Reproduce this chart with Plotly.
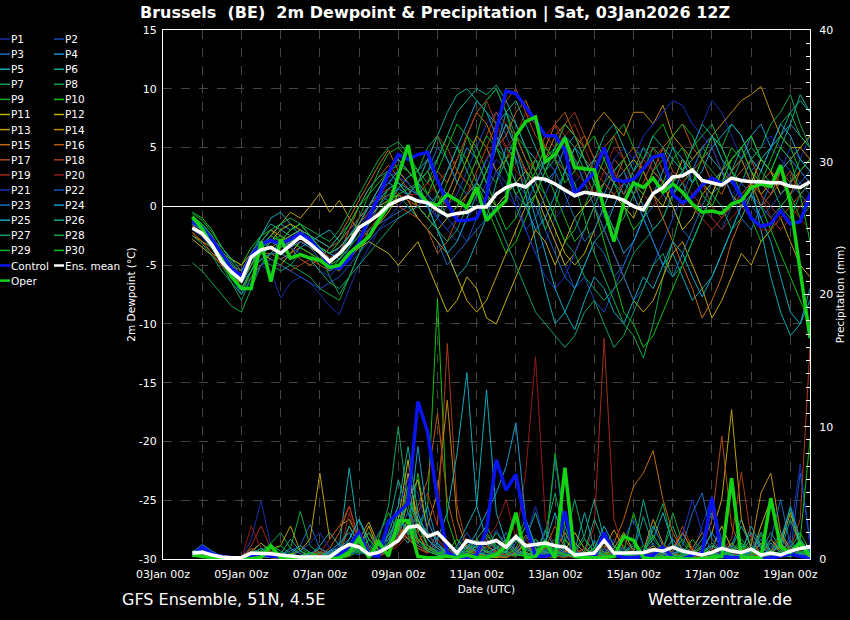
import pandas as pd
import plotly.graph_objects as go

# GFS ensemble run 03Jan2026 12Z, 6-hourly steps from +6h to +384h
times = pd.date_range("2026-01-03 18:00", periods=64, freq="6h")

member_names = [f"P{i}" for i in range(1, 31)]
member_colors = [
    "#1a2fa8", "#1848b8", "#1868c0", "#1890c8", "#10a8b8", "#10a890", "#10a060", "#10a848", "#10b020", "#10c010",
    "#b8b810", "#c0b010", "#c0a010", "#c08810", "#c06810", "#b85c10", "#b04c18", "#a83c18", "#a02c18", "#901c18",
    "#1a30c0", "#1850c0", "#1870c0", "#1898d0", "#10a8c0", "#10a890", "#10a068", "#10a848", "#10b028", "#10c018",
]
control_color = "#0a14f0"
oper_color = "#14d214"
mean_color = "#ffffff"

dew_ticks = [-30, -25, -20, -15, -10, -5, 0, 5, 10, 15]
dew_tick_labels = ["-30", "-25", "-20", "-15", "-10", "-5", "0", "5", "10", "15"]
rain_ticks = [0, 10, 20, 30, 40]

# 2m dewpoint (degC)
dew_control = [
    -1.3, -1.8, -2.8, -4.0, -5.3, -5.9, -4.2, -3.2, -2.9, -3.2,
    -2.8, -2.3, -2.8, -3.8, -5.1, -5.3, -4.5, -3.0, -1.0, 0.8,
    2.8, 4.4, 4.0, 4.4, 4.6, 2.2, 0.3, -1.2, -1.2, -1.0,
    0.8, 6.5, 9.8, 9.6, 8.5, 7.3, 6.0, 6.0, 4.8, 1.0,
    2.0, 2.9, 5.0, 2.3, 2.1, 2.3, 3.2, 4.2, 4.4, 1.0,
    0.3, 0.8, 1.8, 2.4, 1.9, 2.3, 0.8, -1.0, -1.7, -1.5,
    -0.4, -1.5, -1.3, 1.0,
]
dew_oper = [
    -0.9, -1.9, -3.4, -4.5, -6.0, -7.0, -7.0, -3.0, -6.4, -2.8,
    -4.4, -4.1, -4.4, -4.6, -5.2, -5.0, -4.0, -3.3, -2.6, -1.2,
    0.0, 2.6, 5.2, 1.3, 0.3, 0.1, 1.0, 0.5, -0.1, 1.6,
    -1.2, -0.3, 0.5, 6.0, 7.2, 7.6, 3.8, 4.4, 5.8, 3.3,
    3.2, 3.1, -0.3, -3.0, 0.3, 2.0, 1.6, 2.4, 1.2, 1.9,
    1.2, 0.2, -0.5, -0.4, -0.6, 0.2, 0.5, 1.6, 1.9, 1.7,
    3.5, 0.3, -5.5, -11.2,
]
dew_mean = [
    -1.85, -2.3, -3.3, -4.7, -5.6, -6.3, -4.3, -3.7, -3.5, -4.0,
    -3.3, -2.6, -3.2, -3.9, -4.7, -4.0, -3.1, -1.8, -1.3, -0.7,
    0.1, 0.5, 0.8, 0.45, 0.3, -0.3, -0.8, -0.6, -0.5, -0.05,
    -0.05, 1.05, 1.6, 1.9, 1.65, 2.4, 2.3, 1.9, 1.4, 0.9,
    1.2, 1.05, 0.95, 0.8, 0.5, 0.0, -0.3, 1.1, 1.6, 2.5,
    2.6, 3.1, 2.2, 2.0, 1.8, 2.4, 2.2, 2.1, 2.1, 2.0,
    2.0, 1.7, 1.6, 2.1,
]

dew_p1 = [-1.5, -2, -3.5, -4.5, -5.5, -7.5, -6, -5, -5.5, -7.8, -6.5, -6, -6.5, -7.5, -8.5, -9.2, -7, -5, -3.5, -2, -1, 0, 1,
          2, 1, -1, -2, -3, -1, 0, 2, 4, 3, 1, -2, -4, -3, -1, 0, 2, 3, 1, -1, 0, 2, 4, 5, 3, 2, 1, 3, 5, 7, 9, 8, 6, 4, 3, 2, 1, 3, 5, 4, 6]
dew_p2 = [-1.2, -1.8, -2.8, -4, -5, -6, -4, -3, -3, -3.5, -2.5, -2, -2.5, -3.5, -4.5, -3.5, -2.5, -1, 0, 1.5, 2.5, 3, 2,
          1, 0, -1, 0, 1, 3, 5, 7, 8, 6, 4, 3, 1, -1, -3, -5, -7, -6, -8, -9, -7, -5, -3, -1, 1, 2, 3, 2, 1, 0, -1, -2, 0, 2, 3, 4, 5, 4, 3, 2, 1]
dew_p3 = [-2, -2.5, -3.5, -5, -6, -7, -5.5, -4.5, -4, -4.5, -4, -3, -3.5, -4, -5, -4.5, -3.5, -2.5, -2, -1.5, -1, -0.5, 0,
          -1, -2, -3, -5, -4, -3, -2, -1, 0, 1, 2, 1, 0, -2, -4, -6, -7, -5, -3, -4, -6, -5, -3, -1, 0, 1, 0, -2, -3, -1, 1, 2, 3, 2, 1, 0, -1, 0, 1, 2, 3]
dew_p4 = [-1.6, -2.2, -3, -4.2, -5.5, -6.5, -5, -3.5, -2.5, -1.5, -2, -1.5, -2.5, -3, -3.5, -3, -2, -1, 0, 1, 0.5, 1.5, 2.5,
          3, 4, 2, 1, 3, 5, 4, 2, 5, 8, 7, 5, 4, 2, 3, 5, 6, 4, 2, 1, 3, 4, 2, 0, -2, -1, 1, 3, 4, 5, 6, 5, 3, 4, 6, 7, 5, 6, 7, 6, 5]
dew_p5 = [-1, -1.5, -2.5, -4, -5, -6, -4.5, -2.5, -1, -0.5, -1.5, -2.5, -3, -2.5, -2, -3, -2, -1, 0, 1, 2, 3, 2,
          1, 0, -2, -4, -6, -5, -3, -1, 2, 5, 4, 1, -3, -7, -10, -9, -7, -5, -3, -2, 0, 2, 1, -1, -3, -5, -4, -6, -8, -7, -6, -4, -2, 0, 2, -2, -6, -9, -11, -10, -7]
dew_p6 = [-1.8, -2.5, -3.5, -4.5, -5, -5.5, -4, -3, -3.5, -4, -3, -2, -2.5, -3.5, -4.5, -4, -2.5, -1.5, 0, 1, 2, 1.5, 1,
          2, 3, 4, 6, 8, 9, 10, 9.5, 10.3, 9, 7, 5, 3, 4, 5, 3, 1, 2, 4, 3, 2, 1, 3, 5, 4, 2, 1, 2, 3, 5, 4, 3, 2, 1, 2, 4, 5, 6, 8, 9, 8]
dew_p7 = [-1.4, -2, -3.5, -5, -6.5, -8, -6, -5, -4, -3, -2, -1.5, -2.5, -4, -6, -7.5, -6, -4, -2, -1, 0, 1, 0,
          -1, -2, -1, 1, 3, 6, 8, 9, 10, 8, 6, 4, 2, 1, -1, -3, -4, -6, -7, -8, -7, -6, -4, -3, -2, -1, 1, 2, 0, -1, 1, 3, 2, 4, 5, 4, 3, 1, 2, 4, 3]
dew_p8 = [-4.8, -5.5, -6.5, -7.5, -8.5, -9, -7, -5, -4, -4.5, -5, -5.5, -6, -7, -7.5, -8, -6, -4, -2.5, -1, 0, 1.5, 2.5,
          3, 5, 6, 4, 2, 4, 6, 9, 10, 8, 5, 3, 1, -2, 0, 3, 2, -1, -4, -6, -8, -10, -11, -12.9, -10, -6, -3, 0, 2, 4, 6, 5, 7, 6, 4, 3, 5, 7, 8, 6, 5]
dew_p9 = [-0.8, -1.5, -2.5, -4, -5.5, -6.5, -5, -3, -2, -2.5, -3, -3.5, -4, -5, -5.5, -4.5, -3, -1, 1, 3, 4.5, 5, 4,
          3, 1, 0, 2, 4, 6, 5, 3, 2, 4, 6, 5, 3, 1, -1, -3, -2, 0, 2, 4, 6, 7, 5, 4, 6, 7, 5, 3, 2, 4, 6, 5, 3, 1, -1, -3, -2, 0, 1, -1, 0]
dew_p10 = [-0.5, -1, -2, -3.5, -4.5, -5, -3.5, -2.5, -2, -3, -2.5, -2, -3, -4, -4.5, -4, -3, -2, -1, 0, 1.5, 2, 1,
           0, -1, 1, 3, 5, 4, 2, 0, -2, -4, -3, -1, 1, 3, 5, 6, 4, 2, 0, -3, -6, -9, -10, -12, -11, -9, -7, -5, -3, -1, 1, 3, 5, 4, 2, 0, -2, -4, -6, -8, -10]
dew_p11 = [-2.5, -3, -4, -4.5, -5, -5.5, -4.5, -4, -3, -2, -1.5, -2, -3, -3.5, -4, -3.5, -2.5, -2, -1, 0, 0.5, 1, 0.5,
           0, -1, -2, -1, 0, 1, 2, 1, 0, 1, 2, 3, 2, 0, -2, -4, -5, -4, -2, 0, 2, 3, 4, 3, 1, 0, 2, 4, 3, 2, 1, 3, 4, 5, 3, 1, 2, 3, 4, 5, 6]
dew_p12 = [-2.8, -3.5, -4.2, -5, -6, -6.5, -5, -4, -4.5, -5, -4, -3, -3.5, -4, -5, -5.5, -4.5, -3.5, -3, -3.5, -4, -5, -4,
           -3, -5, -7, -9, -8, -6, -7, -9.5, -10, -8, -6, -4, -2, -3, -5, -3, -1, 0, 1, 2, 1, 0, -1, 1, 3, 2, 0, -2, -1, 1, 2, 3, 1, 0, 2, 4, 3, 1, 2, 3, 4]
dew_p13 = [-2.2, -3, -3.5, -4, -4.5, -5, -4, -3.5, -2.5, -1.5, -0.5, -1, 0, 1.1, -0.5, 0.5, -1, -2, -2.5, -1.5, -0.5, 1, 0.5,
           -1, -2, -3, -4, -6, -8, -9, -8, -6, -4, -2, 0, 1, -1, -3, -5, -4, -2, 0, -2, -4, -6, -8, -9, -8, -6, -4, -3, -5, -7, -9.5, -8, -6, -4, -5, -3, -2, -1, -3, -5, -6]
dew_p14 = [-1.5, -2, -3, -4, -5, -6, -5, -4, -3.5, -3, -2.5, -2, -3, -4, -4.5, -4, -3, -1.5, 0, 1.5, 3, 4, 3,
           2, 3, 1, 0, 2, 4, 6, 5, 3, 4, 5, 3, 2, 4, 6, 7, 6, 5, 7, 8, 7, 6, 8, 8, 7, 8.6, 6, 5, 4, 5, 6, 7, 8, 9, 9.5, 10.2, 8, 6, 5, 5, 4]
dew_p15 = [-2, -2.5, -3.5, -4.5, -5.5, -6, -4.5, -3, -2, -2.5, -3.5, -4.5, -5, -4.5, -3.5, -2.5, -1, 0.5, 2, 3.5, 4.8, 3, 2,
           1, 2, 3, 2, 4, 6, 8, 7, 5, 6, 8, 9, 7, 5, 4, 3, 5, 6, 4, 3, 2, 4, 5, 3, 1, -1, -3, -5, -7, -9.5, -8, -6, -3, -1, 1, 2, 3, 2, 1, 3, 2]
dew_p16 = [-1.7, -2.2, -3, -4, -5, -6.5, -5, -4, -4, -4.5, -4, -3.5, -4, -4.5, -5, -4, -2, 0, 1.5, 2.5, 3.5, 2.5, 1.5,
           0, -1, 0, 1, 3, 2, 1, 3, 5, 7, 6, 4, 3, 5, 7, 8, 6, 4, 3, 5, 6, 4, 2, 1, 3, 5, 6, 7, 5, 4, 2, 1, 3, 4, 2, 0, 1, 3, 2, 1, 0]
dew_p17 = [-1.9, -2.5, -3.5, -4.5, -5.5, -7, -5.5, -4, -3, -3.5, -3, -2.5, -3, -3.5, -4, -3.5, -2.5, -1.5, -0.5, 0.5, 1, 0, -0.5,
           -1, -2, -4, -3, -1, 1, 3, 5, 7, 9, 10, 8, 6, 5, 7, 6, 4, 3, 1, 2, 4, 3, 1, 2, 4, 5, 3, 2, 3, 4, 5, 3, 2, 3, 4, 2, 1, 2, 3, 1, 2]
dew_p18 = [-2.3, -3, -4, -5, -6, -7, -6, -5, -4.5, -5, -5.5, -5, -4.5, -5, -5.5, -5, -4, -3, -2, -1, 0, 0.5, 1,
           2, 4, 6, 5, 3, 2, 4, 6, 8, 7, 5, 3, 4, 6, 5, 7, 8, 6, 4, 5, 3, 1, 2, 4, 3, 2, 1, 0, 1, 2, 0, -1, 0, 1, 2, 1, 0, -1, 0, 1, 2]
dew_p19 = [-1.3, -2, -3, -4, -5, -5.5, -4, -3, -3, -3.5, -3, -2, -2.5, -3, -3.5, -3, -2, -1, 0, 1, 1.5, 1, 0.5,
           0, 1, 2, 3, 4, 6, 8, 9, 7, 5, 6, 8, 7, 5, 4, 6, 7, 5, 3, 2, 1, 2, 3, 4, 5, 3, 2, 1, 0, -1, -2, -1, 0, 1, 2, 1, -1, -2, -1, 0, 1]
dew_p20 = [-1.6, -2.3, -3.2, -4.3, -5.3, -6, -4.8, -4, -3.5, -3.8, -3.5, -3, -3.2, -3.8, -4.3, -4, -3, -2, -1, -0.5, 0, 0.5, 1,
           1, 2, 1, 0, -1, 0, 2, 4, 6, 5, 3, 2, 4, 6, 7, 5, 3, 2, 1, 3, 5, 4, 2, 1, 0, 1, 3, 2, 1, 0, -1, -2, -1, 0, -1, -2, -2, -1, 0, -1, -2]
dew_p21 = [-1.1, -1.7, -2.7, -3.8, -5, -6, -4.5, -3.2, -2.5, -3, -3.5, -4, -4.5, -5.5, -6, -5, -3.5, -2, -0.5, 1, 2, 2.5, 2,
           1, 0, -1, -2, -1, 0, 2, 4, 3, 1, 0, -2, -4, -6, -7, -6, -4, -2, 0, 2, 4, 5, 4, 6, 7, 8, 9, 8.6, 7, 6, 5, 3, 1, 2, 4, 5, 6, 5, 4, 3, 2]
dew_p22 = [-2, -2.6, -3.6, -4.8, -6, -7.5, -6.5, -5, -4.5, -5, -5.5, -6, -6.5, -7, -6.5, -6, -5, -4, -3, -2, -1.5, -1, -0.5,
           0, 1, 0, -1, -2, -3, -1, 1, 3, 2, 0, -2, -1, 1, 3, 5, 4, 2, 0, -2, -4, -6, -8, -7, -5, -3, -1, 1, 3, 5, 6, 4, 2, 1, 0, -1, 0, 1, 2, 1, 0]
dew_p23 = [-1.5, -2, -3.2, -4.5, -5.5, -6.5, -5.5, -4.5, -4, -4, -3.5, -3, -3.5, -4.5, -5.5, -5, -4, -3, -1.5, 0, 1, 1.5, 1,
           2, 3, 5, 4, 2, 1, 2, 4, 5, 3, 1, 0, 2, 4, 3, 1, -1, -3, -2, 0, 2, 3, 1, -1, -3, -5, -6, -4, -2, 0, 2, 3, 1, -1, -2, 0, 2, 3, 4, 3, 2]
dew_p24 = [-1.8, -2.4, -3.4, -4.6, -5.8, -7, -5.5, -4, -3.5, -4, -4.5, -3.5, -3, -3.5, -4, -4.5, -3.5, -2, -1, 0.5, 1.5, 2, 1.5,
           1, 0, 1, 3, 5, 7, 9, 8, 6, 4, 2, 0, -2, -1, 1, 3, 5, 4, 2, 0, -2, -4, -3, -1, 1, 3, 5, 4, 2, 3, 5, 6, 7, 6, 4, 3, 5, 7, 6, 4, 3]
dew_p25 = [-1.4, -2, -3, -4, -5.2, -6.5, -5, -3.5, -3, -3.5, -3, -2.5, -3, -3.5, -4, -3.5, -2.5, -1.5, 0, 1.5, 3, 4, 3,
           2, 0, -2, -4, -3, -1, 1, 3, 5, 7, 5, 2, -1, -4, -7, -9, -10.5, -8, -6, -7, -9, -10, -8, -6, -7, -5, -3, -4, -6, -7.7, -6, -4, -2, 0, 1, -1, -3, -6, -9, -10, -8]
dew_p26 = [-1.2, -1.8, -2.8, -3.5, -4.5, -5.5, -4, -2.5, -1.5, -2, -2.5, -2, -2.5, -3, -3.5, -2.5, -1.5, 0, 1.5, 2.5, 3, 2, 1,
           2, 4, 6, 8, 9.5, 10, 9, 8, 7, 8, 9, 7, 5, 3, 4, 6, 5, 3, 4, 6, 7, 5, 3, 4, 6, 5, 4, 3, 5, 7, 6, 4, 3, 5, 6, 4, 3, 5, 7, 9.5, 8]
dew_p27 = [-2.5, -3.2, -4.2, -5.5, -6.5, -7.5, -5.5, -4.5, -5, -5.5, -5, -4, -4.5, -5.5, -6.5, -7, -6, -5, -4, -3, -2, -1, -0.5,
           0, -1, -2, -3, -2, 0, 2, 1, -1, -3, -5, -7, -9, -10, -11, -12, -11, -9, -8, -10, -12, -11, -9, -7, -5, -4, -6, -5, -3, -1, 1, 0, -2, -1, 1, 3, 2, 0, -1, 1, 2]
dew_p28 = [-0.6, -1.2, -2.2, -3.5, -4.8, -6, -4.5, -3, -2, -1.5, -1, -1.5, -2, -2.5, -3, -2, -0.5, 1, 2.5, 4, 5, 5.5, 4.5,
           3, 2, 4, 6, 5, 3, 1, 3, 5, 4, 2, 0, 1, 3, 5, 7, 6, 4, 2, 0, -2, -1, 1, 3, 5, 4, 2, 3, 5, 6, 7, 5, 3, 2, 4, 5, 7, 8, 9.5, 7, 5]
dew_p29 = [-1, -1.6, -2.6, -3.8, -5, -6.2, -5, -4, -3, -2.5, -3, -3.5, -4, -4.5, -5, -4.5, -3.5, -2.5, -1.5, -0.5, 0.5, 1, 1.5,
           2, 3, 1, -1, 0, 2, 4, 6, 5, 3, 1, 2, 4, 3, 1, -1, -3, -2, 0, 2, 3, 4, 2, 1, 3, 4, 6, 7, 6, 4, 3, 2, 4, 5, 3, 2, 4, 6, 5, 3, 4]
dew_p30 = [-1.3, -1.9, -3, -4.2, -5.5, -7, -5.5, -3.5, -2.5, -3, -2, -1.5, -2.5, -3.5, -4, -3, -1.5, 0, 1, 2, 3, 3.5, 3,
           2, 1, 3, 5, 7, 6, 4, 2, 0, -2, -1, 1, 3, 5, 4, 2, 3, 5, 6, 4, 2, 0, -2, -1, 1, 2, 4, 5, 3, 1, 0, 2, 4, 5, 6, 4, 3, 5, 4, 1, -3]

# 6-hourly precipitation (mm)
rain_control = [
    0.3, 0.9, 0.4, 0.2, 0.1, 0.1, 0.3, 0.4, 0.2, 0.2,
    0.1, 0.1, 0.0, 0.0, 0.0, 0.3, 1.0, 2.0, 0.3, 0.2,
    2.8, 3.5, 4.2, 11.9, 9.6, 4.5, 0.5, 0.1, 0.1, 0.3,
    2.2, 7.5, 5.2, 6.4, 2.6, 0.2, 0.2, 0.4, 3.6, 0.2,
    0.1, 0.1, 2.0, 0.3, 0.1, 0.1, 0.2, 0.3, 0.9, 0.1,
    0.0, 0.3, 0.5, 4.6, 0.2, 0.1, 0.1, 0.0, 0.0, 0.1,
    0.2, 0.4, 0.2, 0.1,
]
rain_oper = [
    0.3, 0.2, 0.1, 0.1, 0.0, 0.0, 0.0, 0.1, 1.0, 0.1,
    0.0, 0.0, 0.0, 0.0, 0.0, 0.1, 0.5, 1.6, 0.1, 1.3,
    0.2, 2.9, 2.9, 0.2, 0.1, 0.1, 0.2, 0.1, 0.3, 0.1,
    0.1, 0.3, 1.0, 3.5, 0.1, 0.2, 1.2, 0.1, 6.9, 0.2,
    0.1, 0.1, 0.1, 0.2, 1.7, 1.4, 0.1, 0.0, 0.1, 0.1,
    0.0, 0.0, 0.0, 0.1, 0.2, 6.1, 0.1, 0.1, 0.1, 4.6,
    0.9, 0.5, 1.2, 0.2,
]
rain_mean = [
    0.45, 0.5, 0.3, 0.15, 0.1, 0.1, 0.45, 0.45, 0.4, 0.3,
    0.2, 0.15, 0.15, 0.15, 0.15, 0.7, 1.1, 0.9, 0.35, 0.5,
    0.9, 1.4, 2.4, 2.5, 1.7, 2.0, 1.2, 0.45, 1.4, 1.2,
    1.2, 1.4, 0.9, 1.7, 1.0, 1.1, 1.2, 1.0, 0.9, 0.3,
    0.35, 0.45, 1.4, 0.45, 0.45, 0.45, 0.5, 0.7, 0.6, 0.9,
    0.6, 0.45, 0.3, 0.5, 0.8, 0.6, 0.5, 0.75, 0.3, 0.45,
    0.3, 0.6, 0.8, 0.9,
]

rain_p1 = [0.3, 1.0, 0.5, 0.2, 0.1, 0.0, 1.5, 4.4, 1.0, 0.3, 0.1, 0.0, 0.2, 0.5, 0.3, 0.1,
           0.4, 1.0, 0.5, 0.8, 1.5, 2.5, 3.0, 1.0, 0.5, 1.5, 0.8, 0.3, 0.2, 0.6, 1.2, 0.8,
           0.4, 0.2, 0.8, 1.5, 0.6, 0.3, 0.2, 0.9, 0.4, 0.1, 0.0, 0.3, 0.8, 0.4, 0.2, 0.1,
           0.0, 0.3, 0.6, 0.2, 2.5, 4.8, 1.2, 0.4, 0.2, 0.6, 1.0, 0.4, 0.2, 1.8, 7.2, 0.8]
rain_p2 = [0.2, 0.6, 0.4, 0.3, 0.0, 0.0, 0.3, 0.8, 0.5, 0.2, 0.1, 0.0, 0.0, 0.1, 0.3, 0.2,
           0.5, 1.2, 0.3, 0.4, 1.0, 2.0, 4.5, 3.0, 1.0, 0.4, 0.2, 0.6, 1.4, 0.8, 0.5, 2.2,
           1.0, 0.4, 0.3, 0.2, 0.5, 1.1, 0.4, 0.2, 0.1, 0.3, 0.6, 0.2, 0.1, 0.0, 0.4, 1.2,
           0.5, 0.2, 0.1, 0.3, 0.6, 4.0, 1.5, 0.3, 0.2, 0.1, 0.0, 0.4, 1.5, 0.6, 0.3, 0.2]
rain_p3 = [0.4, 0.8, 0.3, 0.1, 0.0, 0.1, 0.4, 0.6, 0.2, 0.3, 0.6, 1.0, 2.6, 0.8, 0.3, 0.1,
           0.3, 0.7, 0.4, 0.2, 0.9, 1.5, 2.8, 2.0, 0.8, 0.3, 0.1, 0.5, 0.9, 0.4, 1.0, 0.6,
           0.3, 1.2, 2.5, 0.8, 0.4, 7.7, 2.0, 0.5, 0.3, 0.2, 0.1, 0.4, 1.0, 0.5, 0.2, 0.1,
           0.0, 0.2, 0.8, 0.4, 0.1, 0.0, 0.2, 0.6, 1.2, 0.4, 0.2, 0.8, 2.0, 0.6, 0.3, 0.1]
rain_p4 = [0.5, 1.1, 0.6, 0.2, 0.1, 0.0, 0.2, 0.5, 0.3, 0.1, 0.0, 0.0, 0.1, 0.4, 0.2, 0.1,
           0.8, 2.0, 0.6, 0.3, 1.2, 3.5, 1.8, 2.5, 4.0, 1.2, 0.5, 0.3, 0.8, 1.5, 0.6, 0.4,
           1.5, 0.6, 0.2, 0.4, 2.2, 0.8, 0.3, 0.1, 0.2, 1.4, 0.5, 0.2, 0.3, 0.1, 0.6, 2.5,
           1.0, 0.3, 0.1, 0.2, 0.4, 0.2, 0.1, 1.0, 3.0, 0.8, 0.3, 0.2, 0.5, 1.4, 0.4, 0.2]
rain_p5 = [0.4, 0.9, 0.5, 0.2, 0.0, 0.1, 0.3, 0.2, 0.5, 0.2, 0.0, 0.1, 0.3, 1.0, 2.0, 1.0,
           6.9, 1.5, 0.5, 0.3, 1.0, 2.0, 1.2, 3.0, 1.5, 0.6, 0.3, 1.0, 2.5, 4.0, 12.8, 3.5,
           1.2, 0.5, 0.3, 1.5, 0.8, 0.3, 0.2, 0.6, 3.5, 0.8, 0.2, 0.1, 0.3, 0.6, 0.2, 0.1,
           0.4, 1.5, 0.5, 0.2, 0.1, 0.3, 0.8, 0.3, 0.5, 2.5, 1.0, 0.4, 0.2, 0.6, 1.5, 0.4]
rain_p6 = [0.3, 0.7, 0.4, 0.2, 0.1, 0.0, 0.5, 1.2, 0.6, 0.3, 0.1, 0.0, 0.0, 0.2, 0.4, 0.2,
           1.5, 3.0, 1.5, 0.6, 2.5, 6.0, 3.5, 1.5, 0.6, 1.2, 0.4, 0.2, 0.5, 1.5, 2.5, 1.0,
           0.5, 0.3, 1.5, 3.5, 1.2, 0.4, 0.2, 0.6, 1.8, 4.5, 1.5, 0.4, 0.2, 0.5, 3.2, 1.0,
           0.3, 0.2, 0.8, 0.5, 1.5, 3.5, 1.0, 0.3, 0.2, 0.5, 1.2, 0.6, 1.5, 3.8, 1.2, 0.4]
rain_p7 = [0.6, 0.8, 0.4, 0.2, 0.1, 0.2, 0.8, 0.4, 0.2, 0.1, 0.0, 0.0, 0.1, 0.3, 0.6, 0.4,
           1.0, 0.5, 0.3, 1.5, 4.0, 10.0, 4.0, 1.5, 0.8, 0.4, 0.3, 0.6, 1.2, 0.5, 0.3, 0.2,
           0.6, 1.8, 0.8, 0.4, 2.0, 5.0, 1.5, 0.5, 0.3, 0.2, 0.4, 1.0, 0.4, 0.2, 0.1, 0.3,
           0.8, 2.5, 0.6, 0.2, 0.1, 0.4, 1.2, 0.5, 0.2, 0.1, 0.6, 2.0, 0.8, 0.3, 0.2, 0.5]
rain_p8 = [0.5, 0.7, 0.3, 0.1, 0.0, 0.1, 0.2, 0.6, 1.2, 2.0, 0.8, 3.6, 1.0, 0.4, 0.2, 0.1,
           0.3, 0.8, 1.5, 0.6, 1.0, 2.2, 5.5, 2.5, 1.0, 0.6, 0.3, 0.2, 0.6, 1.2, 0.8, 2.0,
           1.0, 0.4, 0.2, 0.6, 1.5, 0.6, 0.3, 0.2, 0.4, 0.8, 1.5, 0.5, 0.2, 0.1, 0.4, 2.2,
           4.2, 1.0, 0.3, 0.2, 0.1, 0.3, 0.8, 0.4, 0.2, 0.6, 1.8, 0.6, 0.3, 0.2, 0.5, 0.3]
rain_p9 = [0.4, 0.6, 0.2, 0.1, 0.0, 0.0, 0.3, 0.5, 0.8, 0.4, 0.2, 0.1, 0.0, 0.1, 0.3, 0.2,
           0.6, 1.2, 0.5, 1.8, 3.5, 2.0, 1.5, 6.5, 2.0, 0.8, 0.3, 0.5, 1.0, 0.6, 1.8, 1.0,
           0.5, 1.5, 3.0, 1.0, 0.8, 8.0, 2.5, 0.6, 0.3, 0.5, 1.2, 0.4, 0.2, 0.6, 0.3, 0.1,
           0.2, 0.5, 1.5, 0.6, 0.3, 0.2, 0.1, 0.5, 1.0, 0.4, 0.2, 0.6, 1.2, 0.5, 0.3, 0.4]
rain_p10 = [0.5, 0.9, 0.4, 0.2, 0.1, 0.0, 0.4, 0.3, 0.2, 0.1, 0.3, 0.8, 0.4, 0.2, 0.1, 0.0,
            0.2, 0.6, 0.4, 0.3, 1.0, 1.5, 3.0, 2.0, 4.0, 19.7, 3.0, 0.8, 0.4, 0.2, 0.6, 1.5,
            0.6, 0.3, 0.2, 0.8, 0.5, 0.2, 1.5, 0.6, 0.3, 0.8, 0.4, 0.2, 0.6, 3.5, 1.0, 0.3,
            0.2, 0.5, 0.3, 0.1, 0.4, 1.0, 0.5, 0.2, 0.6, 1.5, 0.4, 0.3, 0.2, 0.8, 2.0, 0.6]
rain_p11 = [0.2, 0.5, 0.3, 0.1, 0.0, 0.0, 0.1, 0.2, 0.1, 0.0, 0.3, 0.6, 0.2, 0.1, 0.0, 0.1,
            0.3, 1.0, 0.5, 0.2, 0.8, 3.0, 7.5, 2.0, 0.6, 0.3, 0.2, 0.1, 0.4, 1.0, 0.5, 0.2,
            0.1, 0.5, 1.2, 0.4, 0.2, 0.1, 0.6, 2.0, 0.8, 0.3, 0.2, 0.1, 0.4, 0.2, 0.6, 0.3,
            0.1, 0.0, 0.2, 0.5, 0.3, 0.8, 2.5, 0.8, 0.3, 0.2, 0.1, 0.4, 1.0, 3.5, 1.0, 0.3]
rain_p12 = [0.3, 0.6, 0.2, 0.1, 0.0, 0.0, 0.2, 0.4, 0.2, 0.1, 0.0, 0.0, 0.3, 0.8, 0.4, 0.2,
            0.5, 0.9, 2.5, 0.6, 1.0, 1.5, 4.5, 6.0, 2.0, 0.8, 0.3, 0.1, 0.2, 0.5, 0.2, 0.1,
            0.3, 0.8, 0.3, 0.2, 0.1, 0.4, 1.0, 0.4, 0.2, 0.1, 0.3, 0.8, 2.0, 0.6, 0.2, 0.1,
            0.3, 0.6, 2.0, 0.7, 0.3, 0.1, 0.4, 1.2, 0.5, 0.2, 2.5, 4.5, 1.2, 0.4, 0.2, 0.3]
rain_p13 = [0.4, 0.7, 0.3, 0.1, 0.0, 0.0, 0.2, 0.5, 0.8, 1.0, 2.5, 0.6, 1.5, 6.5, 1.5, 2.5,
            3.0, 1.5, 2.8, 1.0, 0.8, 2.0, 6.5, 3.0, 1.0, 0.5, 0.2, 0.6, 1.0, 0.4, 0.2, 0.1,
            0.6, 1.5, 0.5, 0.2, 0.4, 0.2, 0.6, 0.3, 0.1, 0.4, 0.8, 0.3, 0.2, 0.1, 0.5, 1.0,
            0.4, 0.2, 0.1, 0.3, 0.6, 2.0, 4.5, 11.3, 3.0, 0.8, 0.3, 1.5, 0.6, 0.3, 0.2, 0.4]
rain_p14 = [0.3, 0.5, 0.2, 0.1, 0.0, 0.1, 0.6, 1.2, 0.5, 0.3, 0.1, 0.0, 0.2, 0.4, 0.2, 0.1,
            0.4, 1.2, 2.0, 0.6, 0.5, 1.5, 3.0, 1.2, 2.5, 5.0, 12.0, 3.0, 0.8, 0.3, 1.0, 0.5,
            0.2, 0.6, 1.8, 0.7, 0.3, 0.2, 0.5, 1.2, 0.5, 0.2, 0.8, 2.2, 0.8, 0.3, 0.6, 3.0,
            1.2, 0.4, 0.2, 0.8, 2.0, 0.6, 0.3, 0.2, 0.5, 1.0, 5.0, 6.5, 2.0, 0.8, 0.3, 0.2]
rain_p15 = [0.2, 0.4, 0.2, 0.0, 0.0, 0.0, 0.3, 0.6, 0.2, 0.1, 0.0, 0.0, 0.1, 0.3, 0.8, 2.0,
            4.0, 1.5, 0.6, 0.3, 0.8, 2.5, 1.5, 0.8, 0.5, 1.0, 0.4, 0.2, 0.6, 1.5, 0.5, 0.2,
            0.1, 0.5, 1.0, 0.4, 0.2, 0.6, 2.0, 0.8, 0.3, 0.2, 0.5, 1.2, 3.0, 5.5, 6.5, 8.2,
            4.5, 2.0, 0.6, 0.3, 0.2, 0.8, 0.4, 0.2, 0.1, 0.3, 1.2, 0.5, 0.2, 0.4, 0.8, 0.3]
rain_p16 = [0.3, 0.6, 0.3, 0.1, 0.0, 0.0, 0.2, 0.4, 0.6, 0.2, 0.1, 0.0, 0.0, 0.2, 0.5, 0.3,
            2.5, 1.0, 0.5, 0.2, 0.6, 1.8, 2.5, 4.0, 6.0, 11.0, 4.5, 1.5, 0.6, 0.3, 0.2, 0.5,
            1.5, 0.6, 0.3, 0.2, 0.8, 2.5, 0.8, 0.4, 0.2, 0.5, 1.0, 0.4, 0.2, 0.1, 0.3, 0.6,
            0.3, 0.8, 2.0, 0.6, 0.3, 0.2, 0.5, 1.0, 0.4, 0.2, 0.1, 0.6, 1.8, 0.5, 0.2, 0.4]
rain_p17 = [0.4, 0.8, 0.4, 0.2, 0.1, 0.0, 0.3, 0.2, 0.1, 0.0, 0.0, 0.1, 0.3, 0.6, 0.3, 0.2,
            1.0, 2.0, 0.8, 0.4, 1.2, 2.5, 1.5, 1.0, 0.6, 2.0, 0.8, 0.3, 0.2, 0.8, 1.5, 0.6,
            0.3, 0.2, 0.6, 1.2, 0.5, 0.2, 0.1, 0.4, 0.8, 0.3, 0.2, 0.5, 1.5, 0.6, 0.3, 0.2,
            0.1, 0.3, 0.8, 0.3, 1.0, 3.0, 9.3, 2.5, 0.8, 0.3, 0.2, 0.6, 1.0, 0.4, 0.2, 0.3]
rain_p18 = [0.5, 0.9, 0.5, 0.2, 0.1, 0.0, 0.8, 0.5, 0.2, 0.1, 0.0, 0.0, 0.2, 0.5, 0.3, 0.2,
            0.8, 1.5, 0.6, 0.3, 0.6, 1.2, 2.0, 3.5, 5.0, 2.5, 16.3, 4.0, 1.0, 0.4, 0.2, 0.6,
            1.2, 0.5, 0.2, 0.3, 0.8, 0.4, 0.2, 0.1, 0.5, 1.2, 0.4, 0.2, 0.3, 0.8, 0.3, 0.1,
            0.2, 0.6, 2.5, 0.8, 0.3, 0.2, 0.6, 1.5, 6.6, 1.5, 0.4, 0.2, 0.3, 0.8, 3.0, 16.0]
rain_p19 = [0.3, 0.5, 0.3, 0.1, 0.0, 0.0, 1.0, 2.5, 0.8, 0.3, 0.1, 0.0, 0.0, 0.4, 1.5, 2.5,
            4.0, 1.2, 0.5, 0.2, 0.5, 1.0, 1.8, 0.8, 0.4, 1.5, 0.6, 0.3, 0.2, 0.5, 1.0, 0.4,
            0.3, 0.8, 1.5, 0.6, 0.3, 0.2, 0.5, 0.8, 0.4, 2.5, 16.7, 3.0, 0.8, 0.4, 0.2, 0.5,
            1.2, 0.5, 0.2, 0.1, 0.3, 0.6, 1.0, 0.4, 0.2, 0.5, 0.3, 0.2, 0.1, 0.4, 0.6, 0.3]
rain_p20 = [0.4, 0.7, 0.3, 0.2, 0.1, 0.0, 2.5, 0.8, 0.3, 0.1, 0.0, 0.0, 0.1, 0.3, 0.6, 0.3,
            3.5, 1.0, 0.4, 0.2, 0.8, 1.5, 5.0, 2.0, 0.8, 0.4, 1.0, 0.5, 0.3, 0.6, 1.5, 2.5,
            4.5, 1.5, 6.5, 15.3, 3.0, 0.8, 0.3, 0.2, 0.5, 0.2, 0.1, 0.4, 0.8, 0.3, 0.2, 0.5,
            0.2, 0.1, 0.4, 0.8, 0.3, 0.6, 1.5, 0.5, 0.2, 0.1, 0.3, 0.6, 0.2, 0.4, 0.8, 0.3]
rain_p21 = [0.3, 0.8, 0.4, 0.1, 0.0, 0.0, 0.2, 0.5, 0.2, 0.1, 0.2, 0.6, 1.2, 2.0, 0.8, 0.3,
            0.6, 1.2, 0.5, 1.0, 2.5, 4.0, 6.0, 5.0, 2.0, 0.8, 0.3, 0.2, 0.5, 1.2, 0.6, 0.3,
            0.2, 0.6, 1.5, 4.0, 1.2, 0.4, 0.2, 0.6, 0.3, 0.2, 0.5, 1.5, 0.6, 0.3, 0.8, 0.4,
            0.2, 0.5, 1.8, 4.5, 2.0, 0.6, 0.3, 0.2, 0.4, 0.2, 0.6, 1.2, 0.5, 0.3, 0.8, 0.4]
rain_p22 = [0.2, 0.6, 0.3, 0.1, 0.0, 0.0, 0.2, 0.4, 0.2, 0.0, 0.0, 0.0, 0.1, 0.2, 0.5, 1.0,
            0.5, 0.3, 0.8, 2.0, 3.0, 1.5, 2.2, 3.5, 1.5, 0.6, 0.3, 0.8, 2.0, 0.8, 0.3, 0.5,
            1.2, 0.5, 0.3, 0.2, 0.4, 1.0, 0.4, 0.2, 0.1, 0.3, 0.8, 0.4, 1.5, 3.0, 1.0, 0.4,
            0.2, 0.1, 0.3, 0.6, 0.3, 0.2, 0.5, 1.0, 0.4, 0.8, 2.0, 1.0, 0.5, 0.3, 6.5, 1.5]
rain_p23 = [0.4, 0.7, 0.3, 0.2, 0.0, 0.1, 0.3, 0.6, 0.3, 0.1, 0.0, 0.1, 0.4, 0.8, 0.4, 0.2,
            0.5, 1.0, 0.6, 0.3, 1.5, 2.0, 3.5, 2.5, 1.0, 0.5, 0.2, 0.4, 1.0, 0.6, 0.3, 0.8,
            2.0, 0.8, 0.4, 0.2, 0.6, 1.5, 0.5, 0.3, 0.2, 0.6, 1.5, 0.6, 0.3, 0.2, 0.5, 0.8,
            0.4, 0.2, 1.0, 3.5, 5.0, 1.5, 0.5, 0.2, 0.3, 0.6, 0.4, 1.5, 4.5, 1.0, 0.4, 0.2]
rain_p24 = [0.3, 0.9, 0.5, 0.2, 0.1, 0.0, 0.3, 0.2, 0.1, 0.3, 0.8, 0.4, 0.2, 0.1, 0.6, 1.2,
            2.0, 0.8, 0.4, 0.6, 1.8, 3.0, 2.0, 8.5, 3.0, 1.0, 0.5, 0.3, 0.8, 2.0, 3.5, 5.0,
            7.0, 10.3, 3.0, 1.0, 0.5, 0.3, 0.8, 0.4, 0.2, 0.6, 0.3, 0.2, 0.5, 1.2, 0.5, 0.2,
            0.1, 0.4, 0.8, 0.3, 0.6, 2.0, 0.8, 0.3, 0.2, 0.5, 1.5, 0.6, 0.3, 0.2, 0.4, 0.8]
rain_p25 = [0.5, 0.8, 0.4, 0.2, 0.0, 0.1, 0.4, 0.8, 0.3, 0.2, 0.4, 1.0, 0.5, 0.2, 0.6, 0.8,
            1.5, 3.0, 1.0, 0.5, 1.2, 2.5, 4.5, 3.0, 2.0, 1.5, 3.5, 8.0, 14.1, 4.0, 1.5, 0.8,
            0.5, 1.5, 0.8, 0.4, 1.2, 3.5, 1.0, 0.5, 0.3, 0.8, 2.5, 1.0, 0.4, 0.2, 0.6, 1.5,
            3.5, 1.2, 0.4, 0.2, 0.5, 1.0, 0.6, 0.3, 0.8, 2.0, 0.8, 0.4, 1.2, 4.0, 1.5, 0.5]
rain_p26 = [0.4, 0.6, 0.3, 0.2, 0.0, 0.0, 0.3, 0.5, 0.2, 0.4, 1.5, 0.6, 0.3, 0.2, 0.4, 0.8,
            2.5, 1.2, 0.6, 0.3, 2.0, 4.0, 8.5, 3.5, 1.5, 0.8, 0.4, 0.3, 0.6, 1.0, 0.5, 0.8,
            1.5, 0.6, 0.3, 0.5, 1.2, 0.6, 0.3, 0.2, 0.6, 3.0, 1.2, 0.5, 0.3, 0.6, 4.5, 1.5,
            0.6, 0.3, 0.2, 0.5, 1.0, 0.4, 0.3, 0.8, 2.5, 1.0, 0.4, 0.2, 0.6, 3.0, 1.0, 0.4]
rain_p27 = [0.6, 0.8, 0.4, 0.2, 0.1, 0.0, 0.2, 0.6, 1.0, 0.6, 0.2, 0.1, 0.0, 0.2, 0.3, 0.5,
            1.0, 0.6, 0.3, 0.2, 0.8, 1.5, 2.5, 1.5, 0.6, 0.3, 0.2, 0.5, 1.2, 0.5, 0.3, 0.2,
            0.6, 1.5, 0.8, 0.3, 0.2, 0.5, 1.2, 4.5, 1.5, 0.5, 0.2, 0.3, 0.8, 0.4, 0.2, 0.1,
            0.3, 0.8, 0.4, 0.2, 0.5, 1.2, 0.5, 0.3, 0.2, 0.4, 2.0, 0.6, 0.3, 0.2, 0.5, 0.3]
rain_p28 = [0.3, 0.5, 0.2, 0.1, 0.0, 0.0, 0.3, 0.8, 0.4, 0.2, 0.0, 0.0, 0.2, 0.5, 0.2, 0.1,
            0.4, 0.8, 2.0, 1.0, 1.5, 3.5, 2.0, 1.2, 0.6, 0.3, 1.0, 0.5, 0.3, 0.8, 2.0, 0.8,
            0.4, 0.2, 0.6, 1.5, 0.6, 0.3, 0.2, 0.5, 1.5, 0.6, 0.3, 0.2, 0.5, 1.0, 0.4, 0.2,
            0.6, 3.5, 1.2, 0.4, 0.2, 0.5, 0.3, 0.6, 1.5, 0.6, 0.3, 0.2, 0.4, 1.0, 0.5, 0.3]
rain_p29 = [0.4, 0.7, 0.3, 0.1, 0.0, 0.0, 0.2, 0.3, 0.5, 1.0, 0.4, 0.2, 0.1, 0.0, 0.2, 0.4,
            0.8, 0.4, 1.5, 0.6, 1.0, 2.0, 4.5, 2.5, 1.0, 0.5, 0.3, 0.2, 0.6, 1.5, 0.6, 0.3,
            0.2, 0.8, 2.5, 0.8, 0.3, 0.6, 0.4, 0.2, 0.5, 1.2, 0.5, 0.3, 0.2, 0.4, 1.0, 0.5,
            0.2, 0.1, 0.4, 1.5, 0.6, 0.3, 0.2, 0.8, 0.4, 0.2, 0.6, 1.2, 0.5, 0.3, 0.6, 0.4]
rain_p30 = [0.5, 0.8, 0.3, 0.2, 0.0, 0.1, 0.4, 0.6, 0.3, 0.1, 0.0, 0.2, 0.5, 0.2, 0.1, 0.3,
            0.6, 1.2, 0.5, 0.3, 1.2, 2.5, 3.0, 1.5, 0.8, 0.4, 0.6, 1.5, 0.6, 0.3, 0.2, 0.5,
            1.0, 0.4, 0.2, 0.6, 1.5, 0.5, 0.3, 0.2, 0.4, 0.8, 0.3, 0.2, 0.5, 0.2, 0.6, 1.8,
            0.6, 0.3, 0.2, 0.4, 0.8, 0.3, 0.2, 0.5, 1.2, 0.5, 0.3, 0.6, 0.4, 0.2, 1.5, 9.0]

dew_members = [dew_p1, dew_p2, dew_p3, dew_p4, dew_p5, dew_p6, dew_p7, dew_p8, dew_p9, dew_p10,
               dew_p11, dew_p12, dew_p13, dew_p14, dew_p15, dew_p16, dew_p17, dew_p18, dew_p19, dew_p20,
               dew_p21, dew_p22, dew_p23, dew_p24, dew_p25, dew_p26, dew_p27, dew_p28, dew_p29, dew_p30]
rain_members = [rain_p1, rain_p2, rain_p3, rain_p4, rain_p5, rain_p6, rain_p7, rain_p8, rain_p9, rain_p10,
                rain_p11, rain_p12, rain_p13, rain_p14, rain_p15, rain_p16, rain_p17, rain_p18, rain_p19, rain_p20,
                rain_p21, rain_p22, rain_p23, rain_p24, rain_p25, rain_p26, rain_p27, rain_p28, rain_p29, rain_p30]

# plot box in pixels (850x620 page)
L, R, T, B = 163, 810, 30, 559


def px_x(p):
    return (p - L) / (R - L)


def px_y(p):
    return (B - p) / (B - T)


fig = go.Figure()

for name, color, dew in zip(member_names, member_colors, dew_members):
    fig.add_trace(go.Scatter(x=times, y=dew, mode="lines", name=name, line=dict(color=color, width=1)))
fig.add_trace(go.Scatter(x=times, y=dew_control, mode="lines", name="Control", line=dict(color=control_color, width=3.5)))
fig.add_trace(go.Scatter(x=times, y=dew_oper, mode="lines", name="Oper", line=dict(color=oper_color, width=3.5)))
fig.add_trace(go.Scatter(x=times, y=dew_mean, mode="lines", name="Ens. mean", line=dict(color=mean_color, width=3.5)))

for name, color, rain in zip(member_names, member_colors, rain_members):
    fig.add_trace(go.Scatter(x=times, y=rain, mode="lines", name=name, yaxis="y2", line=dict(color=color, width=1)))
fig.add_trace(go.Scatter(x=times, y=rain_control, mode="lines", name="Control", yaxis="y2", line=dict(color=control_color, width=3.5)))
fig.add_trace(go.Scatter(x=times, y=rain_oper, mode="lines", name="Oper", yaxis="y2", line=dict(color=oper_color, width=3.5)))
fig.add_trace(go.Scatter(x=times, y=rain_mean, mode="lines", name="Ens. mean", yaxis="y2", line=dict(color=mean_color, width=3.5)))

grid = "#444444"
fig.update_layout(
    width=850, height=620,
    paper_bgcolor="black", plot_bgcolor="black",
    margin=dict(l=L, r=850 - R, t=T, b=620 - B, autoexpand=False),
    showlegend=False,
    font=dict(family="DejaVu Sans", color="white", size=11),
    title=dict(
        text="Brussels\u00a0 (BE)\u00a0 2m Dewpoint & Precipitation | Sat, 03Jan2026 12Z",
        x=435 / 850, xanchor="center", y=1 - 12 / 620, yanchor="middle",
        font=dict(size=16, family="DejaVu Sans", color="white", weight="bold"),
    ),
    xaxis=dict(
        type="date", range=["2026-01-03 00:00", "2026-01-19 12:00"], automargin=False,
        tick0="2026-01-03", dtick=2 * 86400000, tickformat="%d%b %Hz",
        showgrid=True, gridcolor=grid, griddash="dash", gridwidth=1,
        minor=dict(dtick=86400000, showgrid=True, gridcolor=grid, griddash="dash"),
        showline=True, linecolor="white", linewidth=1, mirror=True, zeroline=False,
        ticks="outside", ticklen=5, tickcolor="black", tickfont=dict(size=11),
        title=dict(text="Date (UTC)", font=dict(size=10.5), standoff=5),
    ),
    yaxis=dict(
        range=[-30, 15], tickvals=dew_ticks, ticktext=dew_tick_labels, automargin=False,
        showgrid=True, gridcolor=grid, griddash="dash",
        zeroline=True, zerolinecolor="white", zerolinewidth=1,
        showline=True, linecolor="white", linewidth=1, mirror=True,
        ticks="outside", ticklen=3, tickcolor="black", tickfont=dict(size=11),
        title=dict(text="2m Dewpoint (°C)", font=dict(size=10.5), standoff=1),
    ),
    yaxis2=dict(
        range=[0, 40], overlaying="y", side="right", tickvals=rain_ticks, automargin=False,
        showgrid=False, zeroline=False, showline=True, linecolor="white",
        ticks="inside", ticklen=6, tickcolor="white", tickfont=dict(size=11),
        ticklabelstandoff=6,
        minor=dict(tickmode="linear", tick0=0, dtick=1, ticks="inside", ticklen=4, tickcolor="white"),
        title=dict(text="Precipitation (mm)", font=dict(size=10.5), standoff=4),
    ),
)

# two-column legend drawn at the left edge
left_col = [(member_names[i], member_colors[i], 1.5) for i in range(0, 30, 2)]
left_col += [("Control", control_color, 2.5), ("Oper", oper_color, 2.5)]
right_col = [(member_names[i], member_colors[i], 1.5) for i in range(1, 30, 2)]
right_col += [("Ens. mean", mean_color, 2.5)]
for col_x, entries in ((0, left_col), (54, right_col)):
    for row, (label, color, w) in enumerate(entries):
        ypx = 39 + 15.1 * row
        fig.add_shape(type="line", xref="paper", yref="paper",
                      x0=px_x(col_x), x1=px_x(col_x + 10), y0=px_y(ypx), y1=px_y(ypx),
                      line=dict(color=color, width=w))
        fig.add_annotation(xref="paper", yref="paper", x=px_x(col_x + 9), y=px_y(ypx),
                           text=label, showarrow=False, xanchor="left", yanchor="middle",
                           font=dict(size=10.5, color="white"))

fig.add_annotation(xref="paper", yref="paper", x=px_x(120), y=px_y(599), text="GFS Ensemble, 51N, 4.5E",
                   showarrow=False, xanchor="left", yanchor="middle", font=dict(size=16, color="white"))
fig.add_annotation(xref="paper", yref="paper", x=px_x(794), y=px_y(599), text="Wetterzentrale.de",
                   showarrow=False, xanchor="right", yanchor="middle", font=dict(size=16, color="white"))

# page margin off so the 850x620 figure fills the window exactly
fig.write_html("out.html", config={"displayModeBar": False},
               post_script="document.body.style.margin='0';document.body.style.background='black';")
